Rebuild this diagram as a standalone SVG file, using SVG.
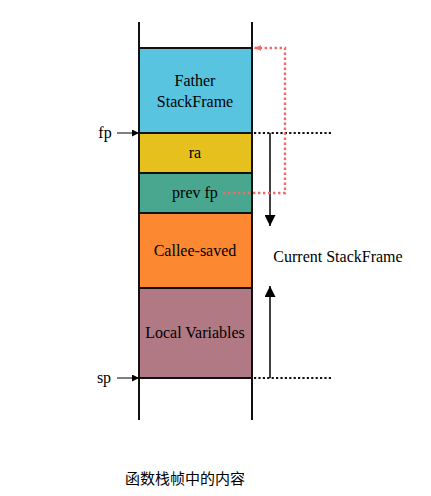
<svg xmlns="http://www.w3.org/2000/svg" width="431" height="496" viewBox="0 0 431 496">
<defs>
<style>
.t{font-family:"Liberation Serif","DejaVu Serif",serif;font-size:16px;fill:#000;text-anchor:middle}
.box{stroke:#111;stroke-width:2}
.dot{stroke:#111;stroke-width:2.2;stroke-dasharray:2.2 2.2;fill:none}
.red{stroke:#F26A66;stroke-width:2.4;stroke-dasharray:2.4 2.6;fill:none}
</style>
<marker id="ah" viewBox="0 0 10 10" refX="10" refY="5" markerWidth="7" markerHeight="7" markerUnits="userSpaceOnUse" orient="auto"><path d="M0,0L10,5L0,10z" fill="#000"/></marker>
<marker id="big" viewBox="0 0 10 10" refX="10" refY="5" markerWidth="11" markerHeight="11" markerUnits="userSpaceOnUse" orient="auto"><path d="M0,0L10,5L0,10z" fill="#000"/></marker>
<marker id="rah" viewBox="0 0 10 10" refX="10" refY="5" markerWidth="7" markerHeight="7" markerUnits="userSpaceOnUse" orient="auto"><path d="M0,1L10,5L0,9z" fill="#F26A66"/></marker>
</defs>
<rect width="431" height="496" fill="#fff"/>
<g id="father"><rect class="box" x="139" y="48" width="113" height="85" fill="#58C4E0"/><text class="t" x="195" y="86">Father</text><text class="t" x="195" y="107">StackFrame</text></g>
<g id="ra"><rect class="box" x="139" y="133" width="113" height="40" fill="#E6C11E"/><text class="t" x="195" y="158">ra</text></g>
<g id="prevfp"><rect class="box" x="139" y="173" width="113" height="40" fill="#4AA78F"/><text class="t" x="195" y="198">prev fp</text></g>
<g id="callee"><rect class="box" x="139" y="213" width="113" height="75" fill="#FC8832"/><text class="t" x="195" y="256">Callee-saved</text></g>
<g id="local"><rect class="box" x="139" y="288" width="113" height="90" fill="#B17983"/><text class="t" x="195" y="338">Local Variables</text></g>
<g id="walls"><line x1="139" y1="22" x2="139" y2="420" stroke="#111" stroke-width="2"/><line x1="252" y1="22" x2="252" y2="420" stroke="#111" stroke-width="2"/></g>
<g id="labels"><text class="t" x="105" y="138">fp</text><text class="t" x="104" y="383">sp</text><text class="t" x="338" y="262">Current StackFrame</text><text x="185" y="484" style="font-family:'Noto Sans CJK SC',sans-serif;font-size:15px;text-anchor:middle">函数栈帧中的内容</text></g>
<g id="connectors">
<line x1="117" y1="133" x2="139" y2="133" stroke="#000" stroke-width="1" marker-end="url(#ah)"/>
<line x1="117" y1="378" x2="139" y2="378" stroke="#000" stroke-width="1" marker-end="url(#ah)"/>
<line class="dot" x1="254" y1="133" x2="331" y2="133"/>
<line class="dot" x1="254" y1="378" x2="331" y2="378"/>
<line x1="270" y1="133" x2="270" y2="226" stroke="#000" stroke-width="1.5" marker-end="url(#big)"/>
<line x1="270" y1="378" x2="270" y2="286" stroke="#000" stroke-width="1.5" marker-end="url(#big)"/>
<path class="red" d="M223,193H285V48H254" marker-end="url(#rah)"/>
</g>
</svg>
